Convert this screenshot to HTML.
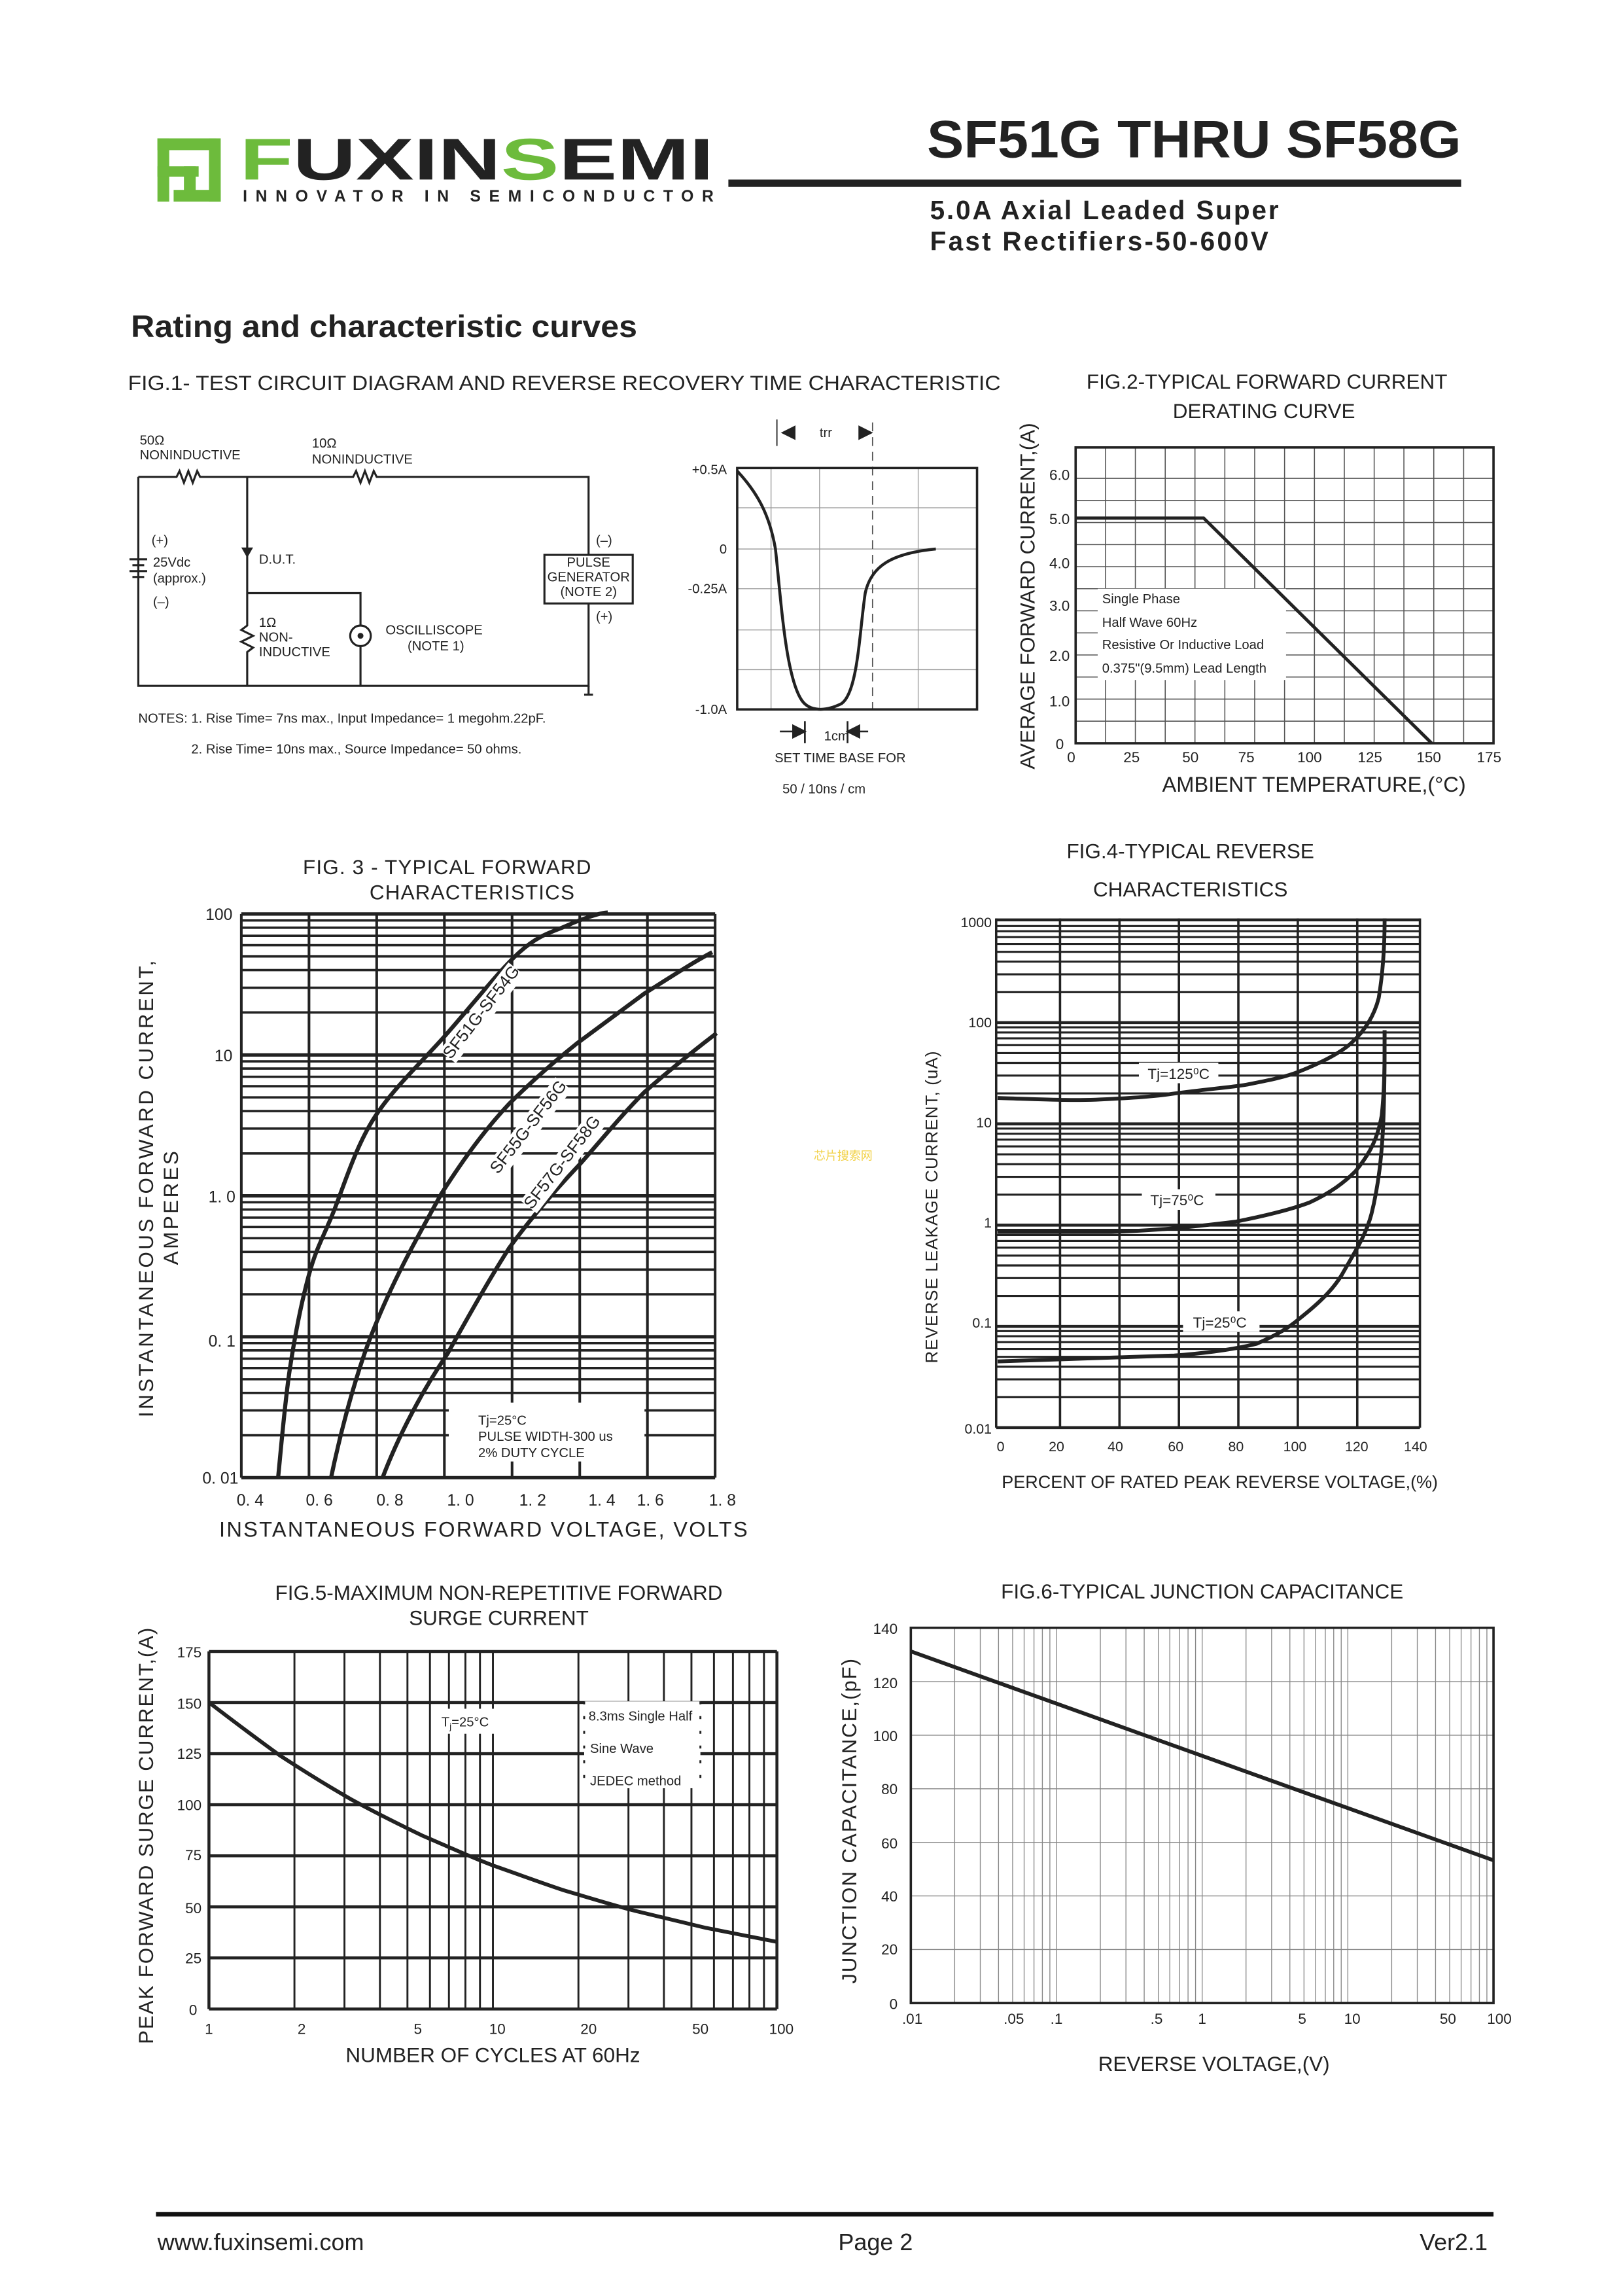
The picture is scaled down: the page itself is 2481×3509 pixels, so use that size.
<!DOCTYPE html>
<html><head><meta charset="utf-8">
<style>
html,body{margin:0;padding:0;background:#fff;}
svg{display:block;}
text{font-family:"Liberation Sans",sans-serif;fill:#222;}
</style></head>
<body>
<svg width="2481" height="3509" viewBox="0 0 1103 1560" xmlns="http://www.w3.org/2000/svg">
<rect width="1103" height="1560" fill="#fff"/>
<!-- Header / logo -->
<g fill="#6dbb3c">
<rect x="107" y="94" width="8" height="43"/><rect x="107" y="94" width="40" height="8"/><rect x="107" y="113" width="28" height="7"/><rect x="142" y="94" width="8" height="43"/><rect x="118" y="129" width="32" height="8"/><rect x="125" y="113" width="8" height="18"/>
</g>
<text x="163" y="122" style="font-weight:bold;font-size:40px" textLength="322" lengthAdjust="spacingAndGlyphs" fill="#3a3a3a"><tspan fill="#6dbb3c">F</tspan>UXIN<tspan fill="#6dbb3c">S</tspan>EMI</text>
<text x="165" y="137" style="font-weight:bold;font-size:11px" textLength="320" lengthAdjust="spacing">INNOVATOR IN SEMICONDUCTOR</text>
<text x="993" y="107" text-anchor="end" style="font-weight:bold;font-size:36px" textLength="363" lengthAdjust="spacingAndGlyphs">SF51G THRU SF58G</text>
<rect x="495" y="122" width="498" height="5" fill="#222"/>
<text x="632" y="149" style="font-weight:bold;font-size:18px" textLength="237" lengthAdjust="spacing">5.0A Axial Leaded Super</text>
<text x="632" y="170" style="font-weight:bold;font-size:18px" textLength="230" lengthAdjust="spacing">Fast Rectifiers-50-600V</text>
<text x="89" y="229" style="font-weight:bold;font-size:21px" textLength="344" lengthAdjust="spacingAndGlyphs">Rating and characteristic curves</text>
<text x="87" y="265" style="font-size:14px" textLength="593" lengthAdjust="spacingAndGlyphs">FIG.1- TEST CIRCUIT DIAGRAM AND REVERSE RECOVERY TIME CHARACTERISTIC</text>

<!-- Circuit -->
<g stroke="#222" stroke-width="1.4" fill="none">
<path d="M94,324 H120 l2,-4 l3,8 l3,-8 l3,8 l3,-8 l2,4 H240 l2,-4 l3,8 l3,-8 l3,8 l3,-8 l2,4 H400 V377 M400,410 V466 H94 V324"/>
<path d="M168,324 V425 l-4,3 l8,4 l-8,4 l8,4 l-4,3 V466"/>
<path d="M168,403 H245 V425 M245,439 V466"/>
<rect x="370" y="377" width="60" height="33"/>
<circle cx="245" cy="432" r="7"/>
<path d="M88,380 H100 M90,384 H98 M88,388 H100 M90,392 H98"/>
<path d="M400,466 V472 M397,472 H403"/>
</g>
<path d="M164,372 L172,372 L168,379 Z" fill="#222"/>
<circle cx="245" cy="432" r="2" fill="#222"/>
<g style="font-size:9px">
<text x="95" y="302">50Ω</text><text x="95" y="312">NONINDUCTIVE</text>
<text x="212" y="304">10Ω</text><text x="212" y="315">NONINDUCTIVE</text>
<text x="103" y="370">(+)</text><text x="104" y="385">25Vdc</text><text x="104" y="396">(approx.)</text><text x="104" y="412">(–)</text>
<text x="176" y="383">D.U.T.</text>
<text x="176" y="426">1Ω</text><text x="176" y="436">NON-</text><text x="176" y="446">INDUCTIVE</text>
<text x="262" y="431">OSCILLISCOPE</text><text x="277" y="442">(NOTE 1)</text>
<text x="405" y="370">(–)</text><text x="405" y="422">(+)</text>
<text x="400" y="385" text-anchor="middle">PULSE</text><text x="400" y="395" text-anchor="middle">GENERATOR</text><text x="400" y="405" text-anchor="middle">(NOTE 2)</text>
<text x="94" y="491">NOTES: 1. Rise Time= 7ns max., Input Impedance= 1 megohm.22pF.</text>
<text x="130" y="512">2. Rise Time= 10ns max., Source Impedance= 50 ohms.</text>
<text x="494" y="322" text-anchor="end">+0.5A</text><text x="494" y="376" text-anchor="end">0</text>
<text x="494" y="403" text-anchor="end">-0.25A</text><text x="494" y="485" text-anchor="end">-1.0A</text>
<text x="557" y="297">trr</text><text x="560" y="503">1cm</text>
<text x="571" y="518" text-anchor="middle">SET TIME BASE FOR</text>
<text x="560" y="539" text-anchor="middle">50 / 10ns / cm</text>
</g>
<g stroke="#999" stroke-width="0.6">
<path d="M524,318V482 M557,318V482 M624,318V482 M501,345H664 M501,373H664 M501,400H664 M501,428H664 M501,455H664"/>
</g>
<path d="M593,287V482" stroke="#555" stroke-width="0.8" stroke-dasharray="6,4"/>
<path d="M528,285V303" stroke="#222" stroke-width="0.8"/>
<rect x="501" y="318" width="163" height="164" fill="none" stroke="#222" stroke-width="1.6"/>
<path d="M501,320 C515,335 523,350 527,373 C531,410 534,460 545,476 C550,483 560,484 572,478 C583,470 584,430 588,403 C592,385 605,376 636,373" fill="none" stroke="#222" stroke-width="2"/>
<g fill="#222" stroke="#222" stroke-width="1.2">
<path d="M532,294 l8,-4 v8z M592,294 l-8,-4 v8z"/>
<path d="M530,497 H540 M547,497 l-8,-4 v8z M590,497 H582 M576,497 l8,-4 v8z"/>
<path d="M547,490V505 M576,490V505" fill="none"/>
</g>

<!-- FIG 2 -->
<g style="font-size:14px">
<text x="861" y="264" text-anchor="middle">FIG.2-TYPICAL FORWARD CURRENT</text>
<text x="859" y="284" text-anchor="middle">DERATING CURVE</text>
<text x="893" y="538" text-anchor="middle" style="font-size:14.5px">AMBIENT TEMPERATURE,(°C)</text>
<text transform="translate(703,405) rotate(-90)" text-anchor="middle" style="font-size:14px">AVERAGE FORWARD CURRENT,(A)</text>
</g>
<path stroke="#555" stroke-width="0.7" fill="none" d="M751.3,304V505 M771.6,304V505 M791.9,304V505 M812.1,304V505 M832.4,304V505 M852.7,304V505 M873,304V505 M893.3,304V505 M913.6,304V505 M933.9,304V505 M954.1,304V505 M974.4,304V505 M994.7,304V505 M731,490H1015 M731,475H1015 M731,460H1015 M731,445H1015 M731,430H1015 M731,415H1015 M731,400H1015 M731,385H1015 M731,370H1015 M731,355H1015 M731,340H1015 M731,325H1015"/>
<rect x="731" y="304" width="284" height="201" fill="none" stroke="#222" stroke-width="1.6"/>
<rect x="746" y="400" width="128" height="62" fill="#fff"/>
<path d="M731,352 H818 L973,505" fill="none" stroke="#222" stroke-width="2.2"/>
<g style="font-size:10px">
<text x="727" y="326" text-anchor="end">6.0</text><text x="727" y="356" text-anchor="end">5.0</text><text x="727" y="386" text-anchor="end">4.0</text><text x="727" y="415" text-anchor="end">3.0</text><text x="727" y="449" text-anchor="end">2.0</text><text x="727" y="480" text-anchor="end">1.0</text><text x="723" y="509" text-anchor="end">0</text>
<text x="728" y="518" text-anchor="middle">0</text><text x="769" y="518" text-anchor="middle">25</text><text x="809" y="518" text-anchor="middle">50</text><text x="847" y="518" text-anchor="middle">75</text><text x="890" y="518" text-anchor="middle">100</text><text x="931" y="518" text-anchor="middle">125</text><text x="971" y="518" text-anchor="middle">150</text><text x="1012" y="518" text-anchor="middle">175</text>
<text x="749" y="410" style="font-size:9px">Single Phase</text><text x="749" y="426" style="font-size:9px">Half Wave 60Hz</text><text x="749" y="441" style="font-size:9px">Resistive Or Inductive Load</text><text x="749" y="457" style="font-size:9px">0.375"(9.5mm) Lead Length</text>
</g>

<!-- FIG 3 -->
<g style="font-size:14px;letter-spacing:0.5px">
<text x="304" y="594" text-anchor="middle">FIG. 3 - TYPICAL FORWARD</text>
<text x="321" y="611" text-anchor="middle">CHARACTERISTICS</text>
<text x="329" y="1044" text-anchor="middle" style="font-size:14.5px;letter-spacing:1px">INSTANTANEOUS FORWARD VOLTAGE, VOLTS</text>
<text transform="translate(104,807) rotate(-90)" text-anchor="middle" style="letter-spacing:1.5px">INSTANTANEOUS FORWARD CURRENT,</text>
<text transform="translate(121,820) rotate(-90)" text-anchor="middle" style="letter-spacing:1.5px">AMPERES</text>
</g>
<path stroke="#222" stroke-width="1.8" fill="none" d="M164,621V1004 M210,621V1004 M256,621V1004 M302,621V1004 M348,621V1004 M394,621V1004 M440,621V1004 M486,621V1004"/>
<path stroke="#222" stroke-width="1.6" fill="none" d="M164,975.2H486 M164,958.3H486 M164,946.4H486 M164,937.1H486 M164,929.5H486 M164,923.1H486 M164,917.5H486 M164,912.6H486 M164,879.4H486 M164,862.6H486 M164,850.6H486 M164,841.3H486 M164,833.7H486 M164,827.3H486 M164,821.8H486 M164,816.9H486 M164,783.7H486 M164,766.8H486 M164,754.9H486 M164,745.6H486 M164,738H486 M164,731.6H486 M164,726H486 M164,721.1H486 M164,687.9H486 M164,671.1H486 M164,659.1H486 M164,649.8H486 M164,642.2H486 M164,635.8H486 M164,630.3H486 M164,625.4H486"/>
<path stroke="#222" stroke-width="2.3" fill="none" d="M164,1004H486 M164,908.25H486 M164,812.5H486 M164,716.75H486 M164,621H486"/>
<rect x="305" y="953" width="133" height="40" fill="#fff"/>
<g fill="none" stroke="#222" stroke-width="2.8" stroke-linejoin="round">
<path d="M189,1004 C190.3,991.7 193.5,953 197,930 C200.5,907 205.2,883.5 210,866 C214.8,848.5 218.7,842.7 226,825 C233.3,807.3 241,780.5 254,760 C267,739.5 287.5,720.8 304,702 C320.5,683.2 339.5,659.2 353,647 C366.5,634.8 375,633.5 385,629 C395,624.5 408.3,620 413,620"/>
<path d="M225,1004 C232,970 243,930 254,903 C268,868 284,840 300,811 C316,786 330,767 346,750 C362,734 377,721 392,709 C408,697 423,686 438,675 C454,665 469,655 484,647"/>
<path d="M260,1004 C271,975 287,945 304,920 C318,895 332,870 346,848 C362,826 378,808 395,790 C410,773 423,757 438,742 C454,728 470,715 487,702"/>
</g>
<g style="font-size:11px">
<text x="158" y="625" text-anchor="end">100</text><text x="158" y="721" text-anchor="end">10</text><text x="160" y="817" text-anchor="end">1. 0</text><text x="160" y="915" text-anchor="end">0. 1</text><text x="162" y="1008" text-anchor="end">0. 01</text>
<text x="170" y="1023" text-anchor="middle">0. 4</text><text x="217" y="1023" text-anchor="middle">0. 6</text><text x="265" y="1023" text-anchor="middle">0. 8</text><text x="313" y="1023" text-anchor="middle">1. 0</text><text x="362" y="1023" text-anchor="middle">1. 2</text><text x="409" y="1023" text-anchor="middle">1. 4</text><text x="442" y="1023" text-anchor="middle">1. 6</text><text x="491" y="1023" text-anchor="middle">1. 8</text>
<text x="325" y="968" style="font-size:9px">Tj=25°C</text><text x="325" y="979" style="font-size:9px">PULSE WIDTH-300 us</text><text x="325" y="990" style="font-size:9px">2% DUTY CYCLE</text>
<g style="font-size:11.5px">
<g transform="translate(330,690) rotate(-52)"><rect x="-38" y="-10" width="76" height="14" fill="#fff"/><text text-anchor="middle">SF51G-SF54G</text></g>
<g transform="translate(362,768) rotate(-52)"><rect x="-38" y="-10" width="76" height="14" fill="#fff"/><text text-anchor="middle">SF55G-SF56G</text></g>
<g transform="translate(385,792) rotate(-52)"><rect x="-38" y="-10" width="76" height="14" fill="#fff"/><text text-anchor="middle">SF57G-SF58G</text></g>
</g>
</g>
<text x="553" y="788" style="font-family:'Liberation Sans','Noto Sans CJK SC',sans-serif;font-size:8px;fill:#f2d24a">芯片搜索网</text>

<!-- FIG 4 -->
<g style="font-size:14px">
<text x="809" y="583" text-anchor="middle">FIG.4-TYPICAL REVERSE</text>
<text x="809" y="609" text-anchor="middle">CHARACTERISTICS</text>
<text x="829" y="1011" text-anchor="middle" style="font-size:12px">PERCENT OF RATED PEAK REVERSE VOLTAGE,(%)</text>
<text transform="translate(637,820) rotate(-90)" text-anchor="middle" style="font-size:11.5px;letter-spacing:0.5px">REVERSE LEAKAGE CURRENT, (uA)</text>
</g>
<path stroke="#222" stroke-width="1.6" fill="none" d="M677,624V970 M720.4,624V970 M760.8,624V970 M801.2,624V970 M841.6,624V970 M882,624V970 M922.4,624V970 M965,624V970"/>
<path stroke="#222" stroke-width="1.4" fill="none" d="M677,949.3H965 M677,937.2H965 M677,928.6H965 M677,921.9H965 M677,916.5H965 M677,911.9H965 M677,907.9H965 M677,904.4H965 M677,880.5H965 M677,868.4H965 M677,859.8H965 M677,853.1H965 M677,847.7H965 M677,843.1H965 M677,839.1H965 M677,835.6H965 M677,811.7H965 M677,799.6H965 M677,791H965 M677,784.3H965 M677,778.9H965 M677,774.3H965 M677,770.3H965 M677,766.8H965 M677,742.9H965 M677,730.8H965 M677,722.2H965 M677,715.5H965 M677,710.1H965 M677,705.5H965 M677,701.5H965 M677,698H965 M677,674.1H965 M677,662H965 M677,653.4H965 M677,646.7H965 M677,641.3H965 M677,636.7H965 M677,632.7H965 M677,629.2H965"/>
<path stroke="#222" stroke-width="2" fill="none" d="M677,970H965 M677,901.2H965 M677,832.4H965 M677,763.6H965 M677,694.8H965 M677,625H965"/>
<rect x="774" y="722" width="54" height="14" fill="#fff"/>
<rect x="776" y="808" width="50" height="14" fill="#fff"/>
<rect x="804" y="891" width="52" height="14" fill="#fff"/>
<g fill="none" stroke="#222" stroke-width="2.6" stroke-linejoin="round">
<path d="M678,746 C710,747 730,748 748,747 C770,746 785,745 798,743 C820,740 835,739 847,737 C862,734 873,732 883,728 C898,722 910,716 918,709 C928,700 934,690 937,678 C940,660 941,640 941,624"/>
<path d="M678,837 C720,837 740,837 755,837 C790,836 815,833 840,830 C860,826 877,822 890,817 C905,810 914,803 921,796 C930,785 936,775 939,758 C941,740 941,720 941,700"/>
<path d="M678,925 C740,923 770,922 798,921 C825,919 842,916 854,913 C868,907 876,902 883,896 C897,885 906,876 912,866 C921,850 928,840 932,825 C937,805 939,785 940,765 C941,740 941,720 941,700"/>
</g>
<g style="font-size:9.5px">
<text x="674" y="630" text-anchor="end">1000</text><text x="674" y="698" text-anchor="end">100</text><text x="674" y="766" text-anchor="end">10</text><text x="674" y="834" text-anchor="end">1</text><text x="674" y="902" text-anchor="end">0.1</text><text x="674" y="974" text-anchor="end">0.01</text>
<text x="680" y="986" text-anchor="middle">0</text><text x="718" y="986" text-anchor="middle">20</text><text x="758" y="986" text-anchor="middle">40</text><text x="799" y="986" text-anchor="middle">60</text><text x="840" y="986" text-anchor="middle">80</text><text x="880" y="986" text-anchor="middle">100</text><text x="922" y="986" text-anchor="middle">120</text><text x="962" y="986" text-anchor="middle">140</text>
<text x="801" y="733" text-anchor="middle" style="font-size:10px">Tj=125⁰C</text>
<text x="800" y="819" text-anchor="middle" style="font-size:10px">Tj=75⁰C</text>
<text x="829" y="902" text-anchor="middle" style="font-size:10px">Tj=25⁰C</text>
</g>

<!-- FIG 5 -->
<g style="font-size:14px">
<text x="339" y="1087" text-anchor="middle">FIG.5-MAXIMUM NON-REPETITIVE FORWARD</text>
<text x="339" y="1104" text-anchor="middle">SURGE CURRENT</text>
<text x="335" y="1401" text-anchor="middle">NUMBER OF CYCLES AT 60Hz</text>
<text transform="translate(104,1247) rotate(-90)" text-anchor="middle" style="letter-spacing:0.8px">PEAK FORWARD SURGE CURRENT,(A)</text>
</g>
<path stroke="#222" stroke-width="1.3" fill="none" d="M200.1,1122V1365 M234.1,1122V1365 M258.2,1122V1365 M276.9,1122V1365 M292.2,1122V1365 M305.1,1122V1365 M316.3,1122V1365 M326.2,1122V1365 M335,1122V1365 M393.1,1122V1365 M427.1,1122V1365 M451.2,1122V1365 M469.9,1122V1365 M485.2,1122V1365 M498.1,1122V1365 M509.3,1122V1365 M519.2,1122V1365"/>
<path stroke="#222" stroke-width="2" fill="none" d="M142,1122V1365 M528,1122V1365 M142,1365H528 M142,1330.3H528 M142,1295.6H528 M142,1260.9H528 M142,1226.2H528 M142,1191.5H528 M142,1156.8H528 M142,1122.1H528"/>
<rect x="397" y="1156" width="79" height="59" fill="#fff"/>
<path d="M397,1156V1215 M476,1156V1215" stroke="#222" stroke-width="1.3" stroke-dasharray="2,8"/>
<rect x="300" y="1161" width="36" height="17" fill="#fff"/>
<path fill="none" stroke="#222" stroke-width="2.6" d="M142,1156.7 C158,1169 174,1181 190.3,1192.8 C206,1203 222,1213 238.5,1222.5 C254,1231 270,1239 286.8,1247.1 C303,1254 318,1261 335,1267.5 C351,1273 367,1279 383.3,1284.4 C399,1289 415,1294 431.5,1298.3 C447,1302 463,1306 479.8,1309.9 C495,1313 511,1316 528,1319.4"/>
<g style="font-size:10px">
<text x="137" y="1126" text-anchor="end">175</text><text x="137" y="1161" text-anchor="end">150</text><text x="137" y="1195" text-anchor="end">125</text><text x="137" y="1230" text-anchor="end">100</text><text x="137" y="1264" text-anchor="end">75</text><text x="137" y="1300" text-anchor="end">50</text><text x="137" y="1334" text-anchor="end">25</text><text x="134" y="1369" text-anchor="end">0</text>
<text x="142" y="1382" text-anchor="middle">1</text><text x="205" y="1382" text-anchor="middle">2</text><text x="284" y="1382" text-anchor="middle">5</text><text x="338" y="1382" text-anchor="middle">10</text><text x="400" y="1382" text-anchor="middle">20</text><text x="476" y="1382" text-anchor="middle">50</text><text x="531" y="1382" text-anchor="middle">100</text>
<text x="300" y="1173" style="font-size:9px">T<tspan style="font-size:6px" dy="2">j</tspan><tspan dy="-2">=25°C</tspan></text>
<text x="400" y="1169" style="font-size:9px">8.3ms Single Half</text><text x="401" y="1191" style="font-size:9px">Sine Wave</text><text x="401" y="1213" style="font-size:9px">JEDEC method</text>
</g>

<!-- FIG 6 -->
<g style="font-size:14px">
<text x="817" y="1086" text-anchor="middle">FIG.6-TYPICAL JUNCTION CAPACITANCE</text>
<text x="825" y="1407" text-anchor="middle">REVERSE VOLTAGE,(V)</text>
<text transform="translate(582,1237) rotate(-90)" text-anchor="middle" style="letter-spacing:0.8px">JUNCTION CAPACITANCE,(pF)</text>
</g>
<path stroke="#888" stroke-width="0.6" fill="none" d="M648.8,1106V1361 M666.2,1106V1361 M678.6,1106V1361 M688.2,1106V1361 M696,1106V1361 M702.7,1106V1361 M708.4,1106V1361 M713.5,1106V1361 M718,1106V1361 M747.8,1106V1361 M765.2,1106V1361 M777.6,1106V1361 M787.2,1106V1361 M795,1106V1361 M801.7,1106V1361 M807.4,1106V1361 M812.5,1106V1361 M817,1106V1361 M846.8,1106V1361 M864.2,1106V1361 M876.6,1106V1361 M886.2,1106V1361 M894,1106V1361 M900.7,1106V1361 M906.4,1106V1361 M911.5,1106V1361 M916,1106V1361 M945.8,1106V1361 M963.2,1106V1361 M975.6,1106V1361 M985.2,1106V1361 M993,1106V1361 M999.7,1106V1361 M1005.4,1106V1361 M1010.5,1106V1361 M619,1324.6H1015 M619,1288.2H1015 M619,1251.8H1015 M619,1215.4H1015 M619,1179H1015 M619,1142.6H1015"/>
<rect x="619" y="1106" width="396" height="255" fill="none" stroke="#222" stroke-width="1.6"/>
<path d="M619,1122 L1015,1264" fill="none" stroke="#222" stroke-width="2.6"/>
<g style="font-size:10px">
<text x="610" y="1110" text-anchor="end">140</text><text x="610" y="1147" text-anchor="end">120</text><text x="610" y="1183" text-anchor="end">100</text><text x="610" y="1219" text-anchor="end">80</text><text x="610" y="1256" text-anchor="end">60</text><text x="610" y="1292" text-anchor="end">40</text><text x="610" y="1328" text-anchor="end">20</text><text x="610" y="1365" text-anchor="end">0</text>
<text x="620" y="1375" text-anchor="middle">.01</text><text x="689" y="1375" text-anchor="middle">.05</text><text x="718" y="1375" text-anchor="middle">.1</text><text x="786" y="1375" text-anchor="middle">.5</text><text x="817" y="1375" text-anchor="middle">1</text><text x="885" y="1375" text-anchor="middle">5</text><text x="919" y="1375" text-anchor="middle">10</text><text x="984" y="1375" text-anchor="middle">50</text><text x="1019" y="1375" text-anchor="middle">100</text>
</g>

<!-- Footer -->
<rect x="106" y="1503" width="909" height="3" fill="#111"/>
<g style="font-size:16px">
<text x="107" y="1529">www.fuxinsemi.com</text>
<text x="595" y="1529" text-anchor="middle">Page 2</text>
<text x="1011" y="1529" text-anchor="end">Ver2.1</text>
</g>
</svg>
</body></html>
